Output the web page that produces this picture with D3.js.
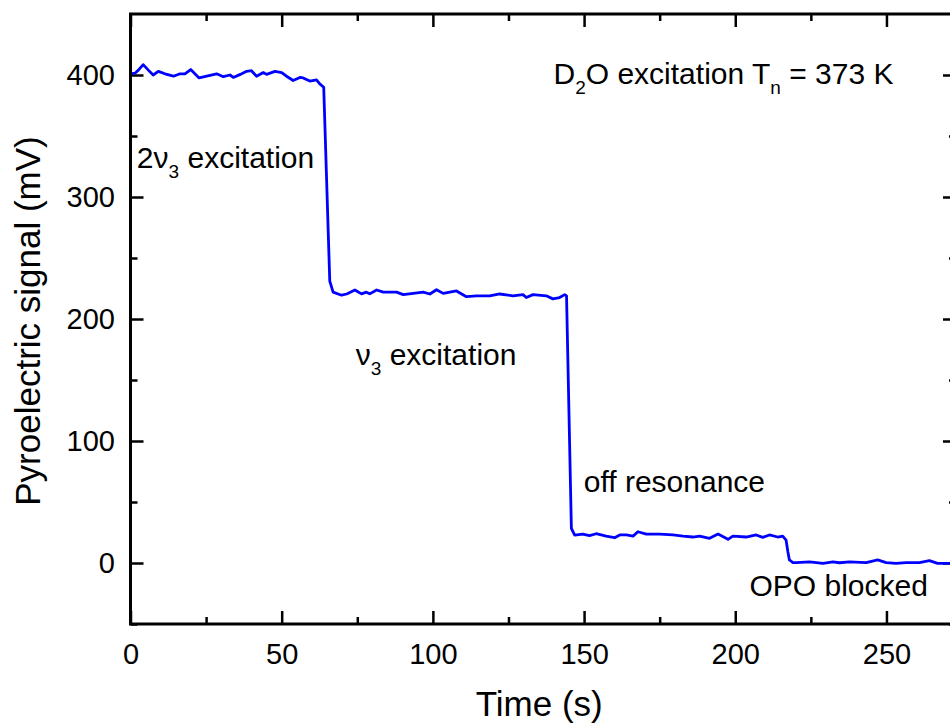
<!DOCTYPE html>
<html>
<head>
<meta charset="utf-8">
<script src="https://cdn.jsdelivr.net/npm/d3@7"></script>
<style>
  body { margin: 0; background: #fff; }
  svg text { font-family: "Liberation Sans", Arial, sans-serif; fill: #000; }
</style>
</head>
<body>
<div id="chart"></div>
<script>
// --- data ---
const timeS = [
  0, 1.5, 2.6, 4.2, 5.9, 7.5, 9.2, 11.4, 14.2, 16.4, 18, 19.9, 22.7, 25.2, 28.5, 30.7,
  32.9, 34, 36.3, 38.4, 40, 41.7, 43.9, 45, 47.8, 50, 51.6, 53.8, 56, 57.1, 59.3, 61.5,
  62.6, 63.9, 65.9, 67, 69.8, 71.5, 74.2, 76.4, 78, 79.1, 81.4, 83.6, 88, 90.2, 93.5,
  96.8, 99, 101.2, 103.4, 107.8, 111.1, 114.4, 118.8, 122.1, 126.5, 129.8, 130.9, 133.1,
  137.5, 139.7, 141.9, 143.6, 144.2, 145.8, 146.9, 149.6, 151.8, 154, 157.3, 160.1,
  161.8, 164, 166.2, 167.8, 170.6, 175, 179.4, 182.7, 186, 188.2, 191.5, 194.3, 197.6,
  199.2, 203.6, 206.9, 209.1, 211.3, 214, 215.7, 216.8, 217.4, 217.9, 219.1, 220.2,
  224.6, 229, 232.3, 234.5, 237.8, 243.3, 247.1, 249.9, 253.2, 256.5, 260.9, 264.2,
  266.9, 273
]
const signalMV = [
  401, 401.5, 404, 408.5, 404, 400, 403, 401, 399, 401, 401, 404.5, 397.6, 399, 401, 398.6,
  400, 398, 400.5, 403, 403.5, 399, 402, 400.5, 403, 402, 399, 395.5, 398, 397.6, 395, 396,
  392.7, 390, 231, 222, 219.5, 220.5, 223.8, 220.6, 222, 220.6, 223.8, 222, 222, 220, 221,
  222, 220.5, 224, 221, 223, 218.3, 219, 219, 220.5, 219, 220, 217.6, 220,
  219, 216.5, 217.6, 220, 219, 28.4, 22.9, 23.7, 22.4, 24, 22, 20.7,
  23, 23, 22, 25.6, 23.7, 23.7, 23, 22, 21.3, 22, 20.2, 23.7, 19.4,
  22, 21.3, 23, 21, 23, 21.3, 22, 18.8, 9.2, 2.5, 0.3, 0.3,
  1, -0.3, 1, 0.2, 1, 0.3, 2.5, 0.3, -0.3, 0.3, 0.3, 1.9,
  -0.3, -0.3
]
const xDomain = [0, 273]
const yDomain = [-50, 450]
const xMajor = [0, 50, 100, 150, 200, 250]
const xMinor = [25, 75, 125, 175, 225]
const yMajor = [0, 100, 200, 300, 400]
const yMinor = [-50, 50, 150, 250, 350]

const width = 950
const height = 725
const margin = { left: 130.5, right: -6, top: 14, bottom: 101 }
const innerW = width - margin.left - margin.right
const innerH = height - margin.top - margin.bottom

const svg = d3.select('#chart').append('svg')
  .attr('width', width)
  .attr('height', height)

const x = d3.scaleLinear().domain(xDomain).range([0, innerW])
const y = d3.scaleLinear().domain(yDomain).range([innerH, 0])

const g = svg.append('g').attr('transform', `translate(${margin.left},${margin.top})`)

g.append('clipPath').attr('id', 'plotclip')
  .append('rect').attr('width', innerW).attr('height', innerH)

// --- axes (ticks inward on all four sides) ---
function styleAxis(sel) {
  sel.select('.domain').remove()
  sel.selectAll('.tick line').attr('stroke', '#000').attr('stroke-width', 2.5)
  sel.selectAll('.tick text').style('font-size', '29px')
}

g.append('g').attr('transform', `translate(0,${innerH})`)
  .call(d3.axisBottom(x).tickValues(xMajor).tickSize(-13).tickPadding(19).tickFormat(d3.format('d')))
  .call(styleAxis)
g.append('g').attr('transform', `translate(0,${innerH})`)
  .call(d3.axisBottom(x).tickValues(xMinor).tickSize(-7).tickFormat(''))
  .call(styleAxis)
g.append('g')
  .call(d3.axisTop(x).tickValues(xMajor).tickSize(-13).tickFormat(''))
  .call(styleAxis)
g.append('g')
  .call(d3.axisTop(x).tickValues(xMinor).tickSize(-7).tickFormat(''))
  .call(styleAxis)

g.append('g')
  .call(d3.axisLeft(y).tickValues(yMajor).tickSize(-13).tickPadding(15.5).tickFormat(d3.format('d')))
  .call(styleAxis)
g.append('g')
  .call(d3.axisLeft(y).tickValues(yMinor).tickSize(-7).tickFormat(''))
  .call(styleAxis)
g.append('g').attr('transform', `translate(${innerW},0)`)
  .call(d3.axisRight(y).tickValues(yMajor).tickSize(-13).tickFormat(''))
  .call(styleAxis)
g.append('g').attr('transform', `translate(${innerW},0)`)
  .call(d3.axisRight(y).tickValues(yMinor).tickSize(-7).tickFormat(''))
  .call(styleAxis)

// --- data line ---
const line = d3.line()
  .x((d, i) => x(timeS[i]))
  .y(d => y(d))

g.append('path')
  .datum(signalMV)
  .attr('clip-path', 'url(#plotclip)')
  .attr('fill', 'none')
  .attr('stroke', '#0000ff')
  .attr('stroke-width', 2.8)
  .attr('stroke-linejoin', 'round')
  .attr('d', line)

// --- frame ---
g.append('rect')
  .attr('width', innerW)
  .attr('height', innerH)
  .attr('fill', 'none')
  .attr('stroke', '#000')
  .attr('stroke-width', 3)

// --- axis titles ---
svg.append('text')
  .attr('x', margin.left + (width - 6 - margin.left) / 2 + 2)
  .attr('y', 716)
  .attr('text-anchor', 'middle')
  .style('font-size', '35px')
  .text('Time (s)')

svg.append('text')
  .attr('transform', `translate(40,${margin.top + innerH / 2 + 2}) rotate(-90)`)
  .attr('text-anchor', 'middle')
  .style('font-size', '35px')
  .text('Pyroelectric signal (mV)')

// --- annotations: [t, mV] anchor points for the text baselines ---
const notes = [
  { t: 2.1, v: 324, parts: [['2', 0], ['ν', 0], ['3', 1], [' excitation', 0]] },
  { t: 74.5, v: 162, parts: [['ν', 0], ['3', 1], [' excitation', 0]] },
  { t: 149.9, v: 58, parts: [['off resonance', 0]] },
  { t: 204.7, v: -27, parts: [['OPO blocked', 0]] },
  { t: 139.9, v: 392.5, parts: [['D', 0], ['2', 1], ['O excitation T', 0], ['n', 1], [' = 373 K', 0]] }
]

notes.forEach(n => {
  const txt = g.append('text')
    .attr('x', x(n.t))
    .attr('y', y(n.v))
    .style('font-size', '30px')
  let sub = false
  n.parts.forEach(([s, isSub]) => {
    const ts = txt.append('tspan').text(s)
    if (isSub && !sub) { ts.attr('dy', 10).style('font-size', '19px'); sub = true }
    else if (isSub) { ts.style('font-size', '19px') }
    else if (sub) { ts.attr('dy', -10); sub = false }
  })
})
</script>
</body>
</html>
